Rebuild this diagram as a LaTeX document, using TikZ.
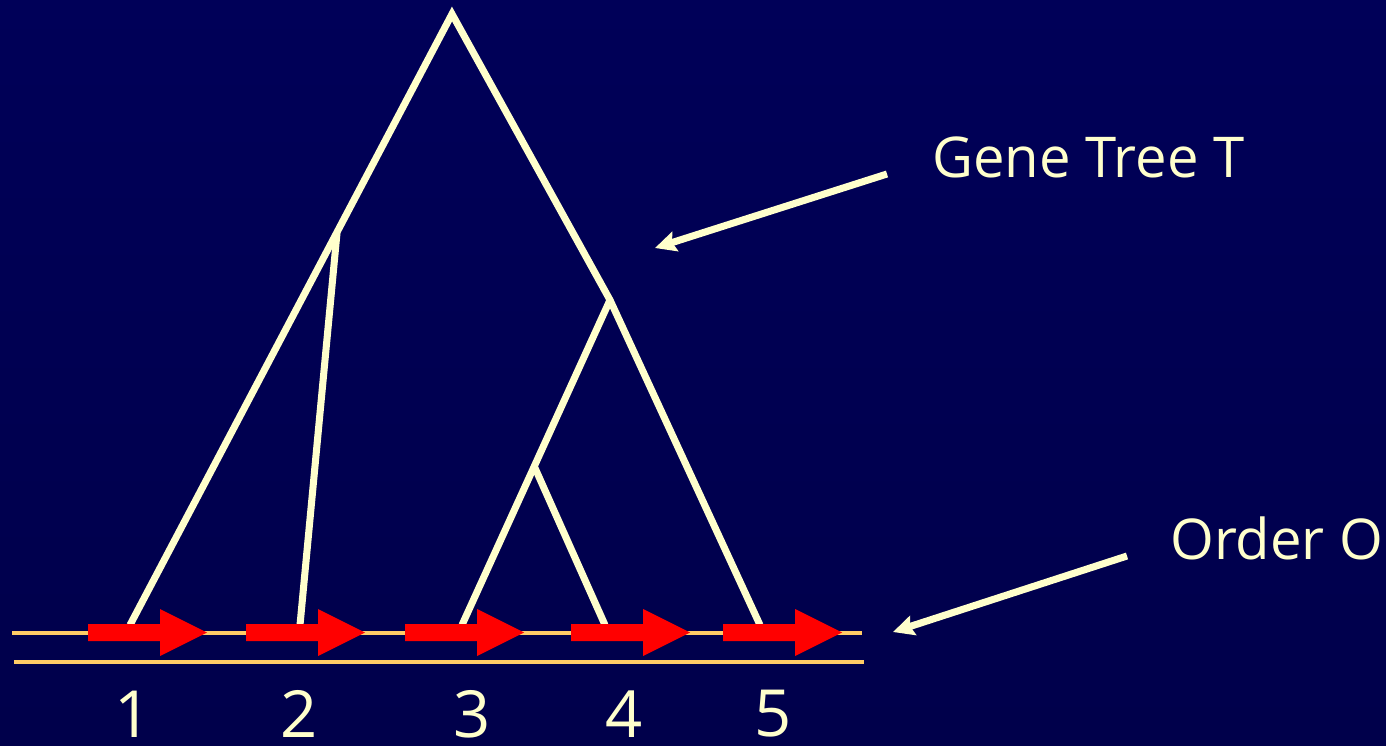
\documentclass[tikz,border=0pt]{standalone}
\usepackage{fontspec}
\setmainfont{Open Sans}
\usepackage{xcolor}
\usetikzlibrary{arrows.meta}
\usetikzlibrary{math}
\definecolor{mynavy}{RGB}{0,0,88}
\definecolor{mycream}{RGB}{255,255,204}
\definecolor{myorange}{RGB}{255,204,102}

\begin{document}
\begin{tikzpicture}[x=0.02cm,y=-0.02cm,
  branch/.style={mycream,line width=4pt},
  pointer/.style={mycream,line width=4pt,-{Stealth[length=0.42cm,width=0.4cm,inset=0.06cm]}},
  leaflabel/.style={mycream,inner sep=0pt,font=\fontsize{37}{40}\selectfont},
  caption/.style={mycream,anchor=west,inner sep=0pt,font=\fontsize{32}{36}\selectfont}]
\tikzmath{
\W=1386; \H=746;
}

\shade[top color=mynavy, bottom color=mynavy!85!black] (0,0) rectangle (\W,\H);
\useasboundingbox (0,0) rectangle (\W,\H);

% tree
\coordinate (root) at (452,14);
\coordinate (a) at (337,233);
\coordinate (b) at (610,300);
\coordinate (c) at (535,468);
\coordinate (l1) at (130,625);
\coordinate (l2) at (300,625);
\coordinate (l3) at (462,625);
\coordinate (l4) at (605,625);
\coordinate (l5) at (760,625);

\draw[branch] (l1) -- (root) -- (b) -- (l5);
\draw[branch] (a) -- (l2);
\draw[branch] (b) -- (l3);
\draw[branch] (c) -- (l4);

% chromosome
\draw[myorange,line width=2pt] (12,633) -- (862,633);
\draw[myorange,line width=2.4pt] (14,662) -- (864,662);

\foreach \s in {88,246,405,571,723}{
  \fill[red] (\s,624) -- ++(72,0) -- ++(0,-15) -- ++(47,23.5) -- ++(-47,23.5) -- ++(0,-15) -- ++(-72,0) -- cycle;
}

\node[leaflabel] (n1) at (133,714) {1};
\node[leaflabel] (n2) at (299,714) {2};
\node[leaflabel] (n3) at (472,714) {3};
\node[leaflabel] (n4) at (624,714) {4};
\node[leaflabel] (n5) at (773,714) {5};

% labels
\node[caption] (gene) at (932,157) {Gene Tree T};
\node[caption] (order) at (1170,538) {Order O};

\coordinate (genefrom) at (887,174);
\coordinate (geneto) at (655,248);
\coordinate (orderfrom) at (1127,556);
\coordinate (orderto) at (893,632);
\draw[pointer] (genefrom) -- (geneto);
\draw[pointer] (orderfrom) -- (orderto);

\end{tikzpicture}
\end{document}
